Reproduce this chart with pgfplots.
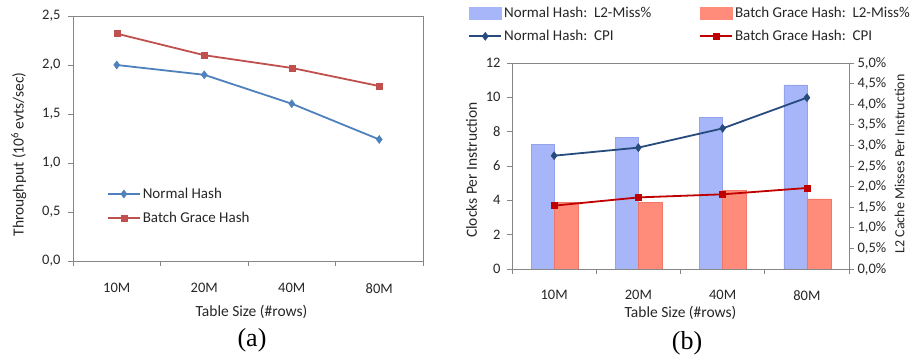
\documentclass[border=0pt]{standalone}
\usepackage{pgfplots}
\pgfplotsset{compat=1.18}
\usepackage{fontspec}
\setmainfont{Carlito}
\newfontfamily\capfont{Liberation Serif}
\definecolor{nblue}{HTML}{4F81BD}
\definecolor{bred}{HTML}{C0504D}
\definecolor{cpiblue}{HTML}{264B7C}
\definecolor{cpired}{HTML}{C00000}
\definecolor{barblue}{HTML}{A6B6F8}
\definecolor{barblueedge}{HTML}{94A4EC}
\definecolor{barred}{HTML}{FF8B7B}
\definecolor{barrededge}{HTML}{F07868}
\definecolor{axgray}{HTML}{868686}
\tikzset{lbl/.style={font=\fontsize{15.5}{18}\selectfont, text=black!85}}
\pgfplotsset{
  common/.style={
    scale only axis,
    xmin=-0.5, xmax=3.5,
    tick align=outside,
    major tick length=5pt,
    tick style={axgray, line width=0.8pt},
    axis line style={axgray, line width=0.8pt},
    /pgf/number format/assume math mode=true,
    ticklabel style={font=\fontsize{14.5}{16}\selectfont, text=black!85},
    legend style={font=\fontsize{15}{17}\selectfont, draw=none, fill=none, text=black!85},
    legend cell align=left,
    legend image code/.code={\draw[mark repeat=2,mark phase=2,#1] plot coordinates {(0pt,0pt)(16pt,0pt)(32pt,0pt)};},
  },
}
\begin{document}
\begin{tikzpicture}
\useasboundingbox (0,0) rectangle (910pt,-358pt);
% ---------------- (a) ----------------
\begin{axis}[common,
  at={(73pt,-261pt)}, anchor=south west,
  width=350pt, height=245pt,
  ymin=0, ymax=2.5,
  ytick={0,0.5,1,1.5,2,2.5},
  yticklabel style={xshift=-4pt, /pgf/number format/.cd, fixed, fixed zerofill, precision=1, use comma},
  xtick={-0.5,0.5,1.5,2.5,3.5}, xticklabels={},
  extra x ticks={0,1,2,3}, extra x tick labels={10M,20M,40M,80M},
  extra x tick style={major tick length=0pt},
  xticklabel style={yshift=-19pt},
  xtick pos=bottom, ytick pos=left,
  xlabel={Table Size (\#rows)},
  ylabel={Throughput (10\textsuperscript{6} evts/sec)},
  every axis x label/.style={lbl, at={(axis description cs:0.51,0)}, anchor=center, yshift=-51pt},
  every axis y label/.style={lbl, at={(axis description cs:-0.155,0.435)}, anchor=center, rotate=90},
  legend style={at={(0.088,0.315)}, anchor=north west, row sep=8pt},
]
\addplot[nblue, line width=1.8pt, mark=diamond*, mark size=4pt, mark options={fill=nblue, draw=nblue, line width=0.5pt}]
  coordinates {(0,2.00) (1,1.90) (2,1.605) (3,1.24)};
\addlegendentry{Normal Hash}
\addplot[bred, line width=1.8pt, mark=square*, mark size=3pt, mark options={fill=bred, draw=bred, line width=0.5pt}]
  coordinates {(0,2.32) (1,2.10) (2,1.97) (3,1.785)};
\addlegendentry{Batch Grace Hash}
\end{axis}
\node[font=\capfont\fontsize{26}{28}\selectfont] at (252pt,-340pt) {(a)};
% ---------------- (b) bars on right axis ----------------
\begin{axis}[common,
  at={(512pt,-269pt)}, anchor=south west,
  width=337pt, height=206pt,
  ymin=0, ymax=5,
  axis x line=none, axis y line*=right,
  ytick={0,0.5,1,1.5,2,2.5,3,3.5,4,4.5,5},
  yticklabel={\pgfmathprintnumber[fixed, fixed zerofill, precision=1, use comma]{\tick}\%},
  ylabel={L2 Cache Misses Per Instruction},
  every axis y label/.style={font=\fontsize{14}{16}\selectfont, text=black!85, at={(axis description cs:1.15,0.51)}, anchor=center, rotate=90},
]
\addplot[ybar, bar width=23pt, bar shift=-11.5pt, draw=barblueedge, line width=0.6pt, fill=barblue]
  coordinates {(0,3.03) (1,3.20) (2,3.68) (3,4.47)};
\addplot[ybar, bar width=24pt, bar shift=12pt, draw=barrededge, line width=0.6pt, fill=barred]
  coordinates {(0,1.61) (1,1.62) (2,1.90) (3,1.70)};
\end{axis}
% ---------------- (b) CPI on left axis ----------------
\begin{axis}[common,
  at={(512pt,-269pt)}, anchor=south west,
  width=337pt, height=206pt,
  ymin=0, ymax=12,
  ytick={0,2,4,6,8,10,12},
  yticklabel style={xshift=-3pt},
  xtick={-0.5,0.5,1.5,2.5,3.5}, xticklabels={},
  extra x ticks={0,1,2,3}, extra x tick labels={10M,20M,40M,80M},
  extra x tick style={major tick length=0pt},
  xticklabel style={yshift=-18pt},
  xtick pos=bottom, ytick pos=left,
  xlabel={Table Size (\#rows)},
  ylabel={Clocks Per Instruction},
  every axis x label/.style={lbl, at={(axis description cs:0.5,0)}, anchor=center, yshift=-44pt},
  every axis y label/.style={lbl, at={(axis description cs:-0.12,0.48)}, anchor=center, rotate=90},
  legend columns=2,
  legend style={at={(-0.139,1.29)}, anchor=north west, row sep=7pt,
    /tikz/column 2/.style={column sep=46pt}},
]
\addlegendimage{legend image code/.code={\fill[barblue] (0pt,-6pt) rectangle (32pt,6pt);}}
\addlegendentry{Normal Hash:\ \ L2-Miss\%}
\addlegendimage{legend image code/.code={\fill[barred] (0pt,-6pt) rectangle (32pt,6pt);}}
\addlegendentry{Batch Grace Hash:\ \ L2-Miss\%}
\addplot[cpiblue, line width=1.8pt, mark=diamond*, mark size=4pt, mark options={fill=cpiblue, draw=cpiblue, line width=0.5pt}]
  coordinates {(0,6.60) (1,7.07) (2,8.19) (3,9.98)};
\addlegendentry{Normal Hash:\ \ CPI}
\addplot[cpired, line width=1.8pt, mark=square*, mark size=3pt, mark options={fill=cpired, draw=cpired, line width=0.5pt}]
  coordinates {(0,3.69) (1,4.17) (2,4.35) (3,4.72)};
\addlegendentry{Batch Grace Hash:\ \ CPI}
\end{axis}
\node[font=\capfont\fontsize{26}{28}\selectfont] at (687pt,-343pt) {(b)};
\end{tikzpicture}
\end{document}
